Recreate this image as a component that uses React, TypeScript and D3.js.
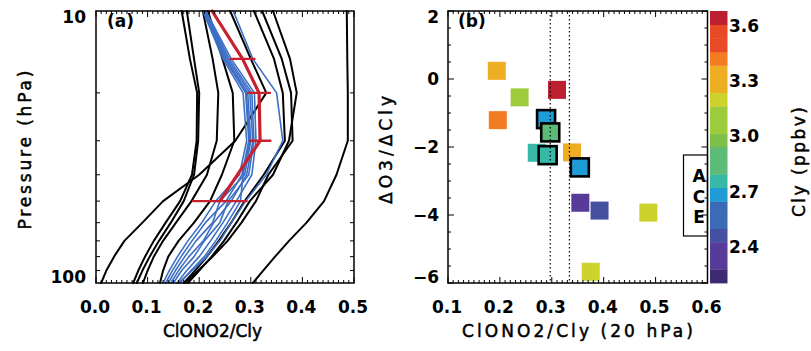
import React from "react";
import * as d3 from "d3";

// ---------- Panel (a) data ----------
const pressureLevels = [10, 15, 20, 30, 40, 50, 60, 70, 80, 90, 100];
const blackProfiles: number[][] = [
  [0.166, 0.182, 0.196, 0.195, 0.186, 0.163, 0.135, 0.112, 0.095, 0.082, 0.072],
  [0.176, 0.190, 0.200, 0.198, 0.190, 0.170, 0.145, 0.122, 0.104, 0.090, 0.079],
  [0.207, 0.226, 0.237, 0.234, 0.215, 0.185, 0.155, 0.130, 0.112, 0.100, 0.091],
  [0.260, 0.300, 0.330, 0.270, 0.200, 0.130, 0.090, 0.055, 0.035, 0.020, 0.010],
  [0.217, 0.245, 0.265, 0.268, 0.244, 0.221, 0.190, 0.160, 0.140, 0.130, 0.124],
  [0.306, 0.345, 0.362, 0.366, 0.325, 0.288, 0.262, 0.238, 0.215, 0.192, 0.170],
  [0.343, 0.376, 0.389, 0.374, 0.343, 0.298, 0.272, 0.248, 0.224, 0.200, 0.178],
  [0.322, 0.360, 0.378, 0.381, 0.334, 0.310, 0.282, 0.255, 0.226, 0.198, 0.172],
  [0.486, 0.487, 0.488, 0.488, 0.466, 0.442, 0.408, 0.374, 0.347, 0.324, 0.304],
];
const blueProfiles: number[][] = [
  [0.207, 0.246, 0.285, 0.292, 0.278, 0.232, 0.205, 0.178, 0.158, 0.142, 0.130],
  [0.208, 0.249, 0.290, 0.296, 0.283, 0.252, 0.212, 0.186, 0.165, 0.148, 0.135],
  [0.210, 0.252, 0.294, 0.300, 0.288, 0.240, 0.226, 0.194, 0.172, 0.154, 0.140],
  [0.211, 0.255, 0.298, 0.304, 0.292, 0.262, 0.228, 0.208, 0.180, 0.160, 0.145],
  [0.212, 0.258, 0.302, 0.306, 0.296, 0.256, 0.240, 0.210, 0.190, 0.166, 0.150],
  [0.213, 0.262, 0.307, 0.310, 0.302, 0.272, 0.246, 0.222, 0.200, 0.176, 0.157],
  [0.209, 0.250, 0.291, 0.298, 0.285, 0.280, 0.255, 0.232, 0.210, 0.184, 0.163],
  [0.266, 0.304, 0.350, 0.362, 0.330, 0.290, 0.262, 0.240, 0.215, 0.186, 0.160],
];
const meanLevels = [10, 15, 20, 30, 50];
const meanValues = [0.225, 0.284, 0.316, 0.318, 0.240];
const errLevels = [15, 20, 30, 50];
const errValues = [0.284, 0.316, 0.318, 0.240];
const errHalf = [0.023, 0.021, 0.02, 0.052];
const xTicksA = [0.0, 0.1, 0.2, 0.3, 0.4, 0.5];
const yMinorA = [20, 30, 40, 50, 60, 70, 80, 90];
const yLabelsA = [10, 100];

// ---------- Panel (b) data ----------
const scatterX = [0.194, 0.238, 0.310, 0.196, 0.289, 0.297, 0.271, 0.292, 0.339, 0.354, 0.355, 0.392, 0.486, 0.375];
const scatterY = [0.24, -0.54, -0.32, -1.21, -1.18, -1.57, -2.17, -2.24, -2.16, -2.60, -3.64, -3.87, -3.93, -5.67];
const scatterCly = [3.30, 3.10, 3.65, 3.42, 2.68, 2.85, 2.75, 2.75, 3.30, 2.68, 2.33, 2.46, 3.20, 3.20];
const scatterOutlined = [false, false, false, false, true, true, false, true, false, true, false, false, false, false];
const dottedX = [0.297, 0.334];
const xTicksB = [0.1, 0.2, 0.3, 0.4, 0.5, 0.6];
const yTicksB = [-6, -4, -2, 0, 2];
const legendLetters = ["A", "C", "E"];

// ---------- Colour bar ----------
const clyRange = [2.205, 3.681];
const bandColors = [
  "#3e2a73", "#583a99", "#583a99", "#4550a0", "#3b6bb6", "#3b6bb6", "#1f9bd7",
  "#38b9a7", "#5cbb77", "#5cbb77", "#7cc04a", "#9ccb3c", "#9ccb3c", "#cdd22c",
  "#eeae24", "#eeae24", "#f37b21", "#e84a27", "#e84a27", "#bd2130",
];
const cbLabels = [2.4, 2.7, 3.0, 3.3, 3.6];

const FONT = "DejaVu Sans";

export default function App() {
  // layout
  const A = { l: 96, r: 354, t: 11, b: 283 };
  const B = { l: 448, r: 707.5, t: 11, b: 283 };
  const CB = { l: 710, r: 727.5 };

  const xA = d3.scaleLinear().domain([0, 0.5]).range([A.l, A.r]);
  const yA = d3.scaleLog().domain([10, 100]).range([A.t, A.b]);
  const xB = d3.scaleLinear().domain([0.1, 0.6]).range([B.l, B.r]);
  const yB = d3.scaleLinear().domain([-6, 2]).range([B.b, B.t]);
  const yC = d3.scaleLinear().domain(clyRange).range([B.b, B.t]);

  const nb = bandColors.length;
  const colorFor = (v: number) => {
    const i = Math.floor(((v - clyRange[0]) / (clyRange[1] - clyRange[0])) * nb);
    return bandColors[Math.max(0, Math.min(nb - 1, i))];
  };

  const profLine = d3
    .line<number>()
    .x((v) => xA(v))
    .y((_, i) => yA(pressureLevels[i]));
  const meanLine = d3
    .line<number>()
    .x((v) => xA(v))
    .y((_, i) => yA(meanLevels[i]));

  const minorXA = d3.range(0, 51).map((i) => i / 100);
  const minorXB = d3.range(10, 61).map((i) => i / 100);
  const minorYB = d3.range(-12, 5).map((i) => i / 2);

  const sq = 18;
  const bandH = (B.b - B.t) / nb;

  const tickLabel = {
    fontFamily: FONT,
    fontWeight: "bold" as const,
    fontSize: 17,
    fill: "#000",
  };
  const titleStyle = {
    fontFamily: FONT,
    fontSize: 17,
    fill: "#000",
    stroke: "#000",
    strokeWidth: 0.5,
  };

  return (
    <div style={{ position: "absolute", left: 0, top: 0 }}>
      <svg width={811} height={351} style={{ display: "block", background: "#fff" }}>
        {/* ---------------- Panel (a) ---------------- */}
        <g fill="none" strokeLinejoin="round" strokeLinecap="round">
          {blackProfiles.map((p, i) => (
            <path key={"bk" + i} d={profLine(p) || ""} stroke="#000" strokeWidth={2} />
          ))}
          {blueProfiles.map((p, i) => (
            <path key={"bl" + i} d={profLine(p) || ""} stroke="#3d6fc4" strokeWidth={1.6} />
          ))}
          <path d={meanLine(meanValues) || ""} stroke="#c8202f" strokeWidth={3.2} />
          {errLevels.map((p, i) => (
            <line
              key={"er" + i}
              x1={xA(errValues[i] - errHalf[i])}
              x2={xA(errValues[i] + errHalf[i])}
              y1={yA(p)}
              y2={yA(p)}
              stroke="#c8202f"
              strokeWidth={2.4}
            />
          ))}
        </g>
        {/* ticks panel a */}
        <g stroke="#000" strokeWidth={1}>
          {minorXA.map((v, i) => {
            const major = i % 10 === 0;
            const len = major ? 6 : 3;
            return (
              <g key={"txa" + i}>
                <line x1={xA(v)} x2={xA(v)} y1={A.b} y2={A.b - len} />
                <line x1={xA(v)} x2={xA(v)} y1={A.t} y2={A.t + len} />
              </g>
            );
          })}
          {yMinorA.map((p) => (
            <g key={"tya" + p}>
              <line x1={A.l} x2={A.l + 4} y1={yA(p)} y2={yA(p)} />
              <line x1={A.r} x2={A.r - 4} y1={yA(p)} y2={yA(p)} />
            </g>
          ))}
        </g>
        <rect x={A.l} y={A.t} width={A.r - A.l} height={A.b - A.t} fill="none" stroke="#000" strokeWidth={1.5} />
        {xTicksA.map((v) => (
          <text key={"lxa" + v} x={xA(v) - 1} y={313} textAnchor="middle" style={tickLabel}>
            {v.toFixed(1)}
          </text>
        ))}
        {yLabelsA.map((p) => {
          const yc = Math.max(A.t + 6, Math.min(A.b - 6, yA(p)));
          return (
            <text key={"lya" + p} x={86} y={yc + 6} textAnchor="end" style={tickLabel}>
              {p}
            </text>
          );
        })}
        <text x={107} y={27} style={tickLabel}>(a)</text>
        <text x={163} y={337} textLength={99} lengthAdjust="spacingAndGlyphs" style={titleStyle}>
          ClONO2/Cly
        </text>
        <text
          transform="translate(31,150) rotate(-90)"
          textAnchor="middle"
          textLength={159}
          style={titleStyle}
        >
          Pressure (hPa)
        </text>

        {/* ---------------- Panel (b) ---------------- */}
        {scatterX.map((x, i) => (
          <rect
            key={"sq" + i}
            x={xB(x) - sq / 2}
            y={yB(scatterY[i]) - sq / 2}
            width={sq}
            height={sq}
            fill={colorFor(scatterCly[i])}
            stroke={scatterOutlined[i] ? "#000" : "none"}
            strokeWidth={scatterOutlined[i] ? 2.6 : 0}
          />
        ))}
        {dottedX.map((v) => (
          <line
            key={"dot" + v}
            x1={xB(v)}
            x2={xB(v)}
            y1={B.t}
            y2={B.b}
            stroke="#000"
            strokeWidth={1.2}
            strokeDasharray="1.5,2.5"
          />
        ))}
        <rect x={683.5} y={155} width={B.r - 683.5} height={81} fill="#fff" stroke="#000" strokeWidth={1.2} />
        {legendLetters.map((s, i) => (
          <text key={"lg" + s} x={699} y={182 + i * 20.5} textAnchor="middle" style={tickLabel}>
            {s}
          </text>
        ))}
        <g stroke="#000" strokeWidth={1}>
          {minorXB.map((v, i) => {
            const major = i % 10 === 0;
            const len = major ? 6 : 3;
            return (
              <g key={"txb" + i}>
                <line x1={xB(v)} x2={xB(v)} y1={B.b} y2={B.b - len} />
                <line x1={xB(v)} x2={xB(v)} y1={B.t} y2={B.t + len} />
              </g>
            );
          })}
          {minorYB.map((v, i) => {
            const major = i % 4 === 0;
            const len = major ? 6 : 3;
            return (
              <g key={"tyb" + i}>
                <line x1={B.l} x2={B.l + len} y1={yB(v)} y2={yB(v)} />
                <line x1={B.r} x2={B.r - len} y1={yB(v)} y2={yB(v)} />
              </g>
            );
          })}
        </g>
        <rect x={B.l} y={B.t} width={B.r - B.l} height={B.b - B.t} fill="none" stroke="#000" strokeWidth={1.5} />
        {xTicksB.map((v) => (
          <text key={"lxb" + v} x={xB(v) - 1} y={313} textAnchor="middle" style={tickLabel}>
            {v.toFixed(1)}
          </text>
        ))}
        {yTicksB.map((v) => {
          const yc = Math.max(B.t + 6, Math.min(B.b - 6, yB(v)));
          return (
            <text key={"lyb" + v} x={439} y={yc + 6} textAnchor="end" style={tickLabel}>
              {v < 0 ? "\u2212" + Math.abs(v) : String(v)}
            </text>
          );
        })}
        <text x={458} y={27} style={tickLabel}>(b)</text>
        <text x={462} y={337} textLength={231} lengthAdjust="spacing" style={titleStyle}>
          ClONO2/Cly (20 hPa)
        </text>
        <text
          transform="translate(392,150) rotate(-90)"
          textAnchor="middle"
          textLength={108}
          style={titleStyle}
        >
          ΔO3/ΔCly
        </text>

        {/* ---------------- Colour bar ---------------- */}
        {bandColors.map((c, i) => (
          <rect
            key={"cb" + i}
            x={CB.l}
            y={B.b - (i + 1) * bandH}
            width={CB.r - CB.l}
            height={bandH + 0.4}
            fill={c}
          />
        ))}
        {cbLabels.map((v) => (
          <text key={"cbl" + v} x={729} y={yC(v) + 6} style={tickLabel}>
            {v.toFixed(1)}
          </text>
        ))}
        <text
          transform="translate(805,162) rotate(-90)"
          textAnchor="middle"
          textLength={110}
          style={titleStyle}
        >
          Cly (ppbv)
        </text>
      </svg>
    </div>
  );
}
